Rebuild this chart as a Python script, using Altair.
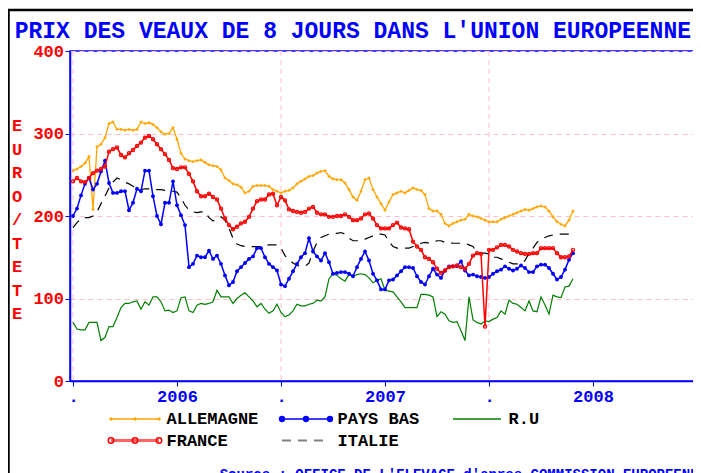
import altair as alt
import pandas as pd

TITLE = "PRIX DES VEAUX DE 8 JOURS DANS L'UNION EUROPEENNE"
Y_TITLE = "EURO/TETE"
SOURCE = "Source : OFFICE DE L'ELEVAGE d'apres COMMISSION EUROPEENNE"

SERIES = ["ALLEMAGNE", "PAYS BAS", "R.U", "FRANCE", "ITALIE"]
WEEKS = list(range(126))

ALLEMAGNE = [255, 257, 260, 264, 272, 208, 284, 287, 295, 312,
             314, 305, 305, 304, 305, 304, 305, 314, 312, 313,
             311, 307, 302, 299, 300, 307, 293, 276, 269, 267,
             266, 267, 268, 265, 262, 261, 260, 256, 246, 243,
             239,
             238, 235, 228, 230, 236, 237, 237, 237, 236,
             232, 230, 228, 230, 231, 234, 239, 242, 245, 248,
             249, 252, 254, 255, 248, 245, 244, 244, 240, 232,
             223, 219, 230, 244, 246, 232, 223, 215, 207, 217,
             226, 228, 230, 228, 231,
             234, 232, 231, 226, 209,
             206, 206, 202, 191, 188, 191, 193, 195, 196, 202,
             200, 199, 197, 195, 193, 193, 193, 196, 198, 200,
             202, 204, 206, 208, 207, 209, 211, 212, 211, 206,
             199, 193, 190, 188, 195, 206]

PAYS_BAS = [200, 209, 225, 239, 246, 232, 239, 254, 267, 240,
            228, 228, 230, 230, 207, 216, 233, 230, 255, 255,
            224, 200, 190, 216, 216, 242, 213, 201, 189, 138,
            142, 152, 150, 150, 158, 148, 152, 142, 128, 116,
            120,
            133, 138, 143, 148, 151, 161, 161, 150, 142,
            138, 134, 117, 115, 124, 133, 142, 150, 155, 173,
            157, 151, 146, 155, 144, 130, 131, 132, 132, 130,
            127, 138, 148, 157, 146, 130, 122, 111, 111, 122,
            123, 128, 133, 138, 138,
            137, 127, 120, 117, 127,
            136, 129, 125, 134, 139, 139, 139, 145, 134, 128,
            129, 127, 126, 125, 126, 130, 133, 135, 139, 136,
            134, 136, 140, 137, 132, 132, 139, 141, 141, 137,
            130, 123, 126, 135, 147, 155]

RU = [71, 63, 62, 62, 71, 71, 71, 49, 53, 66,
      66, 77, 89, 94, 94, 96, 97, 87, 96, 92,
      102, 102, 96, 85, 86, 83, 85, 101, 102, 85,
      83, 92, 94, 93, 94, 96, 110, 102, 102, 102,
      94,
      100, 104, 107, 102, 97, 90, 94, 87, 82,
      85, 93, 83, 78, 80, 85, 93, 91, 91, 93,
      94, 98, 97, 102, 124, 130, 128, 124, 121, 129,
      127, 129, 130, 129, 125, 119, 122, 124, 110, 109,
      108, 102, 96, 89, 89,
      89, 89, 105, 105, 104,
      102, 78, 84, 81, 73, 71, 72, 61, 49, 102,
      74, 71, 69, 73, 72, 75, 77, 85, 81, 98,
      94, 93, 89, 85, 97, 85, 84, 102, 92, 81,
      104, 102, 101, 114, 115, 124]

FRANCE = [242, 246, 242, 241, 246, 252, 255, 257, 260, 278,
          281, 283, 274, 271, 276, 280, 285, 289, 295, 297,
          293, 287, 281, 275, 268, 258, 257, 259, 259, 251,
          242, 230, 224, 224, 227, 223, 220, 209, 197, 189,
          184,
          187, 191, 193, 199, 209, 218, 220, 220, 226,
          227, 213, 223, 219, 208, 206, 205, 204, 205, 209,
          211, 204, 202, 202, 199, 199, 200, 200, 202, 199,
          195, 195, 197, 202, 203, 197, 189, 185, 185, 185,
          189, 192, 186, 185, 184,
          169, 163, 159, 150, 148,
          144, 136, 131, 134, 138, 139, 140, 138, 136, 142,
          152, 155, 154, 66, 159, 159, 162, 165, 165, 163,
          159, 157, 155, 154, 154, 155, 155, 161, 161, 161,
          161, 155, 150, 150, 151, 159]

ITALIE = [186, 192, 197, 198, 198, 200, 205, 215, 224, 234,
          241, 246, 244, 241, 239, 236, 233, 232, 233, 233,
          232, 232, 232, 231, 230, 230, 229, 222, 213, 207,
          205, 204, 205, 205, 198, 194, 195, 199, 195, 185,
          173,
          166, 164, 163, 163, 163, 163, 163, 164, 165,
          165, 165, 161, 152, 147, 143, 140, 139, 139, 143,
          157, 168, 174, 176, 178, 179, 179, 180, 178, 173,
          170, 170, 170, 172, 174, 176, 178, 178, 177, 169,
          163, 161, 161, 161, 161,
          163, 165, 167, 168, 167,
          168, 170, 170, 168, 168, 167, 167, 167, 167, 165,
          163, 156, 155, 155, 154, 150, 150, 148, 146, 144,
          142, 142, 142, 146, 155, 161, 168, 172, 174, 176,
          177, 178, 178, 178, 178, 178]

X_TICKS = [0, 26, 52, 78, 104, 130, 156]
X_TICK_LABELS = [".", "2006", ".", "2007", ".", "2008", "."]
X_GRID = [0, 52, 104, 156]
Y_TICKS = [0, 100, 200, 300, 400]

FONT = "Liberation Mono"
BLUE = "#0000ff"
RED = "#ff0000"
PINK = "#ffc0cb"

values_by_series = dict(zip(SERIES, [ALLEMAGNE, PAYS_BAS, RU, FRANCE, ITALIE]))
data = pd.DataFrame(
    [{"series": s, "week": w, "value": v}
     for s in SERIES for w, v in zip(WEEKS, values_by_series[s])]
)

STYLE = {
    "ALLEMAGNE": dict(color="#ffa500", width=1.3, dash=None,
                      marker=dict(shape="cross", filled=True, size=9, sw=1),
                      lmarker=dict(shape="cross", filled=True, size=14, sw=1),
                      lcolor="#ffa500", lwidth=1.5, lopacity=1),
    "PAYS BAS": dict(color=BLUE, width=1.5, dash=None,
                     marker=dict(shape="circle", filled=True, size=15, sw=1),
                     lmarker=dict(shape="circle", filled=True, size=40, sw=1),
                     lcolor=BLUE, lwidth=1.5, lopacity=1),
    "R.U": dict(color="#008000", width=1.2, dash=None, marker=None, lmarker=None,
                lcolor="#008000", lwidth=1.5, lopacity=1),
    "FRANCE": dict(color=RED, width=1.5, dash=None,
                   marker=dict(shape="circle", filled=False, size=10, sw=1.2),
                   lmarker=dict(shape="circle", filled=False, size=30, sw=1.5),
                   lcolor=RED, lwidth=3, lopacity=0.6),
    "ITALIE": dict(color="#000000", width=1.2, dash=[9, 7], marker=None, lmarker=None,
                   lcolor="#808080", lwidth=2, lopacity=1),
}
DRAW_ORDER = ["ALLEMAGNE", "R.U", "ITALIE", "PAYS BAS", "FRANCE"]

# x label expression built from the tick arrays
label_expr = "'" + X_TICK_LABELS[-1] + "'"
for t, lab in reversed(list(zip(X_TICKS, X_TICK_LABELS))[:-1]):
    label_expr = f"datum.value == {t} ? '{lab}' : ({label_expr})"

x_enc = alt.X(
    "week:Q",
    scale=alt.Scale(domain=[-0.75, 156.5], nice=False, zero=False),
    axis=alt.Axis(values=X_TICKS, labelExpr=label_expr, title=None, grid=False,
                  labelColor=BLUE, labelFont=FONT, labelFontSize=17, labelFontWeight="bold",
                  labelPadding=2, labelFlush=False, labelOverlap=False,
                  tickSize=5, tickColor=BLUE, domainColor=BLUE, domainWidth=1.5),
)
y_enc = alt.Y(
    "value:Q",
    scale=alt.Scale(domain=[0, 400], nice=False),
    axis=alt.Axis(values=Y_TICKS, format="d",
                  title=list(Y_TITLE), titleAngle=0, titleAlign="center",
                  titleBaseline="alphabetic", titleX=-53.3, titleY=79.6,
                  titleLineHeight=23.5, titleFont=FONT, titleFontSize=17,
                  titleFontWeight="bold", titleColor=RED,
                  labelColor=RED, labelFont=FONT, labelFontSize=17, labelFontWeight="bold",
                  labelPadding=1.5, tickSize=5, tickColor=BLUE,
                  domainColor=BLUE, domainWidth=1.5,
                  grid=True, gridColor=PINK, gridDash=[5, 4], gridWidth=1),
)

layers = []

# outer black frame
layers.append(
    alt.Chart(pd.DataFrame({"k": [0]})).mark_rect(
        fillOpacity=0, stroke="black", strokeWidth=2.5
    ).encode(x=alt.value(-61.5), x2=alt.value(800), y=alt.value(-41), y2=alt.value(600))
)

# vertical grid
layers.append(
    alt.Chart(pd.DataFrame({"week": X_GRID})).mark_rule(
        color=PINK, strokeDash=[5, 4], strokeWidth=1
    ).encode(x=x_enc)
)

for name in DRAW_ORDER:
    st = STYLE[name]
    base = alt.Chart(data).transform_filter(alt.datum.series == name)
    line_kw = dict(color=st["color"], strokeWidth=st["width"])
    if st["dash"]:
        line_kw["strokeDash"] = st["dash"]
    layers.append(base.mark_line(**line_kw).encode(x=x_enc, y=y_enc))
    if st["marker"]:
        m = st["marker"]
        layers.append(base.mark_point(shape=m["shape"], filled=m["filled"], size=m["size"],
                                      strokeWidth=m["sw"], color=st["color"], opacity=1)
                      .encode(x=x_enc, y=y_enc))

# manual legend (3 columns, 2 rows)
LEG_X = [41, 212, 383]
LEG_Y = [368, 389.5]
SYM_LEN = 48
for i, name in enumerate(SERIES):
    st = STYLE[name]
    x0 = LEG_X[i % 3]
    yy = LEG_Y[i // 3]
    one = pd.DataFrame({"name": [name]})
    rule_kw = dict(color=st["lcolor"], strokeWidth=st["lwidth"], opacity=st["lopacity"])
    if st["dash"]:
        rule_kw["strokeDash"] = st["dash"]
    layers.append(alt.Chart(one).mark_rule(**rule_kw).encode(
        x=alt.value(x0), x2=alt.value(x0 + SYM_LEN), y=alt.value(yy)))
    if st["lmarker"]:
        m = st["lmarker"]
        for k in range(3):
            layers.append(alt.Chart(one).mark_point(
                shape=m["shape"], filled=m["filled"], size=m["size"],
                strokeWidth=m["sw"], color=st["color"], opacity=1
            ).encode(x=alt.value(x0 + k * SYM_LEN / 2), y=alt.value(yy)))
    layers.append(alt.Chart(one).mark_text(
        align="left", baseline="middle", font=FONT, fontSize=17, fontWeight="bold", color="black"
    ).encode(x=alt.value(x0 + 55.5), y=alt.value(yy), text="name:N"))

# title
layers.append(alt.Chart(pd.DataFrame({"t": [TITLE]})).mark_text(
    align="left", baseline="alphabetic", font=FONT, fontSize=23, fontWeight="bold", color=BLUE
).encode(x=alt.value(-55.3), y=alt.value(-12.7), text="t:N"))

# source line (cut at the bottom edge)
layers.append(alt.Chart(pd.DataFrame({"t": [SOURCE]})).mark_text(
    align="left", baseline="alphabetic", font=FONT, fontSize=14, fontWeight="bold", color=BLUE
).encode(x=alt.value(149.7), y=alt.value(428), text="t:N"))

chart = alt.layer(*layers).properties(
    width=629, height=330,
    autosize=alt.AutoSizeParams(type="none"),
    padding={"left": 62, "top": 43, "right": -6, "bottom": 92},
).configure_view(stroke=BLUE, strokeWidth=1.5)

chart.save("out.html", embed_options={"renderer": "svg", "actions": False})
